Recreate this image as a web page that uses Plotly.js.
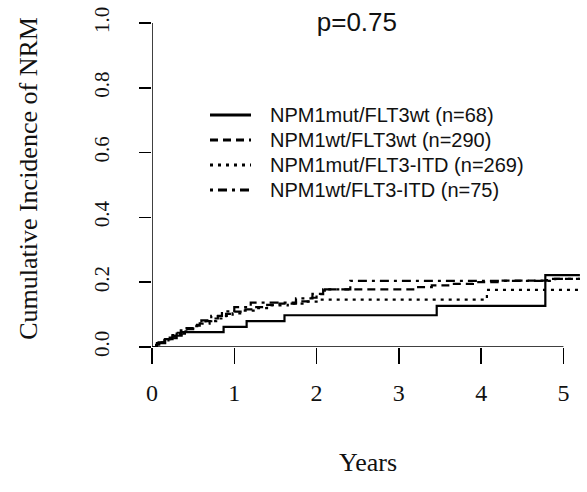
<!DOCTYPE html>
<html>
<head>
<meta charset="utf-8">
<script src="https://cdn.plot.ly/plotly-3.0.1.min.js"></script>
<style>html,body{margin:0;padding:0;background:#fff;}#chart{width:587px;height:492px;}</style>
</head>
<body>
<div id="chart"></div>
<script>
// Series names
const seriesNames = [
  "NPM1mut/FLT3wt (n=68)",
  "NPM1wt/FLT3wt (n=290)",
  "NPM1mut/FLT3-ITD (n=269)",
  "NPM1wt/FLT3-ITD (n=75)"
];
// NPM1mut/FLT3wt
const years1 = [0, 0.06, 0.16, 0.25, 0.36, 0.87, 1.15, 1.61, 3.46, 4.78, 5.2];
const cif1   = [0, 0.012, 0.024, 0.035, 0.046, 0.062, 0.08, 0.098, 0.127, 0.222, 0.222];
// NPM1wt/FLT3wt
const years2 = [0, 0.05, 0.1, 0.15, 0.2, 0.25, 0.3, 0.35, 0.42, 0.5, 0.58, 0.65, 0.72, 0.8, 0.9, 1.0, 1.1, 1.25, 1.4, 1.55, 1.75, 1.9, 2.0, 2.08, 3.2, 3.4, 3.6, 3.9, 4.2, 4.8, 5.2];
const cif2   = [0, 0.007, 0.014, 0.022, 0.029, 0.037, 0.044, 0.051, 0.058, 0.066, 0.073, 0.08, 0.088, 0.095, 0.102, 0.109, 0.116, 0.123, 0.13, 0.134, 0.141, 0.152, 0.163, 0.178, 0.185, 0.19, 0.195, 0.2, 0.205, 0.21, 0.21];
// NPM1mut/FLT3-ITD
const years3 = [0, 0.06, 0.12, 0.18, 0.24, 0.3, 0.36, 0.45, 0.52, 0.6, 0.7, 0.78, 0.88, 0.98, 1.1, 1.25, 1.45, 1.65, 1.85, 2.0, 4.07, 5.2];
const cif3   = [0, 0.008, 0.016, 0.024, 0.032, 0.04, 0.048, 0.056, 0.064, 0.072, 0.08, 0.088, 0.096, 0.104, 0.112, 0.12, 0.128, 0.134, 0.14, 0.146, 0.176, 0.176];
// NPM1wt/FLT3-ITD
const years4 = [0, 0.08, 0.2, 0.3, 0.4, 0.5, 0.6, 0.72, 0.85, 1.0, 1.2, 1.75, 1.95, 2.1, 2.41, 4.9, 5.2];
const cif4   = [0, 0.014, 0.027, 0.041, 0.055, 0.068, 0.082, 0.096, 0.11, 0.123, 0.137, 0.15, 0.164, 0.178, 0.204, 0.21, 0.21];

const xTicks = [0, 1, 2, 3, 4, 5];
const yTicks = [0, 0.2, 0.4, 0.6, 0.8, 1.0];
const pText = "p=0.75";

const dashes = ["solid", "8px,5px", "3px,5px", "3px,5px,9px,5px"];
const xs = [years1, years2, years3, years4];
const ys = [cif1, cif2, cif3, cif4];

const traces = seriesNames.map((n, i) => ({
  x: xs[i], y: ys[i], name: n, type: "scatter", mode: "lines", showlegend: false,
  line: {shape: "hv", color: "#000", width: 2.2, dash: dashes[i]}
}));

const serif = "Liberation Serif, Times New Roman, serif";
const sans = "Liberation Sans, Arial, sans-serif";

// Manual legend (paper coordinates)
const W = 432, H = 337, L = 152, T = 10;
const px = v => (v - L) / W;
const py = v => (T + H - v) / H;
const legRows = [115, 140, 165, 190];
const shapes = [
  {type: "line", xref: "x", yref: "y", x0: xTicks[0], x1: xTicks[xTicks.length-1], y0: 0, y1: 0, line: {color: "#000", width: 1.5}},
  {type: "line", xref: "x", yref: "y", x0: 0, x1: 0, y0: yTicks[0], y1: yTicks[yTicks.length-1], line: {color: "#000", width: 1.5}}
];
const annotations = [];
seriesNames.forEach((n, i) => {
  shapes.push({type: "line", xref: "paper", yref: "paper", x0: px(210), x1: px(251), y0: py(legRows[i]), y1: py(legRows[i]),
               line: {color: "#000", width: 3, dash: dashes[i]}});
  annotations.push({text: n, xref: "paper", yref: "paper", x: px(268), y: py(legRows[i]), xanchor: "left", yanchor: "middle",
                    showarrow: false, font: {family: sans, size: 20, color: "#111"}});
});

const layout = {
  width: 587, height: 492,
  margin: {l: 152, r: 3, t: 10, b: 145},
  paper_bgcolor: "#fff", plot_bgcolor: "#fff",
  showlegend: false,
  title: {text: pText, font: {family: sans, size: 26, color: "#111"}, x: 0.608, xanchor: "center", y: 0.955, yanchor: "middle"},
  xaxis: {range: [0, 5.25], tickvals: xTicks, ticktext: xTicks.map(String), ticks: "outside", ticklen: 16, tickwidth: 1.5,
          tickcolor: "#000", showline: false, showgrid: false, zeroline: false,
          tickfont: {family: serif, size: 24, color: "#111"}, ticklabelstandoff: 8,
          title: {text: "Years", font: {family: serif, size: 26, color: "#111"}, standoff: 48}},
  yaxis: {range: [0, 1.04], tickvals: yTicks, tickformat: ".1f", ticks: "outside", ticklen: 12, tickwidth: 1.5,
          tickcolor: "#000", showline: false, showgrid: false, zeroline: false, tickangle: -90,
          tickfont: {family: serif, size: 21, color: "#111"}, ticklabelstandoff: 22,
          title: {text: "Cumulative Incidence of NRM", font: {family: serif, size: 26, color: "#111"}, standoff: 44}},
  shapes: shapes,
  annotations: annotations
};

Plotly.newPlot("chart", traces, layout, {staticPlot: true, displayModeBar: false});
</script>
</body>
</html>
